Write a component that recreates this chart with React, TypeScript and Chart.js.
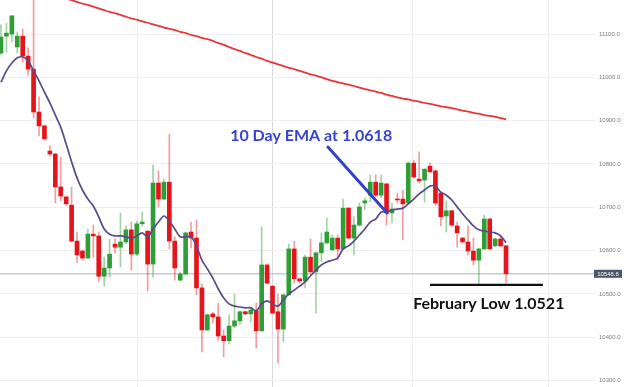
import React, { useEffect, useRef } from "react";
import { Chart, registerables } from "chart.js";

Chart.register(...registerables);

// ---- data (EUR/USD x10000 style price scale) ----
const opens = [
  11056, 11095, 11100, 11070, 11095, 11049, 11019, 10920, 10888, 10830,
  10823, 10747, 10724, 10705, 10622, 10599, 10583, 10638, 10634, 10541,
  10560, 10615, 10608, 10620, 10648, 10592, 10662, 10645, 10569, 10756,
  10719, 10758, 10622, 10532, 10546, 10643, 10629, 10514, 10417, 10454,
  10447, 10403, 10392, 10426, 10438, 10459, 10454, 10461, 10415, 10567,
  10518, 10459, 10419, 10498, 10604, 10535, 10530, 10585, 10551, 10595,
  10618, 10602, 10629, 10604, 10698, 10629, 10659, 10710, 10728, 10758,
  10728, 10754, 10687, 10719, 10719, 10710, 10802, 10765, 10763, 10795,
  10784, 10733, 10680, 10692, 10657, 10629, 10620, 10599, 10578, 10604,
  10673, 10611, 10627, 10611,
];
const highs = [
  11121, 11125, 11142, 11105, 11112, 11068, 11230, 10955, 10890, 10842,
  10825, 10816, 10726, 10747, 10643, 10601, 10650, 10659, 10643, 10585,
  10627, 10627, 10687, 10657, 10666, 10668, 10689, 10647, 10798, 10784,
  10765, 10869, 10632, 10551, 10643, 10666, 10671, 10523, 10454, 10458,
  10479, 10417, 10452, 10500, 10461, 10461, 10470, 10479, 10655, 10569,
  10520, 10500, 10500, 10615, 10622, 10537, 10590, 10627, 10597, 10641,
  10675, 10636, 10636, 10719, 10700, 10678, 10710, 10722, 10775, 10775,
  10775, 10756, 10710, 10733, 10740, 10805, 10809, 10828, 10790, 10802,
  10786, 10735, 10715, 10694, 10666, 10631, 10657, 10629, 10606, 10682,
  10675, 10629, 10632, 10613,
];
const lows = [
  11052, 11058, 11082, 11056, 11035, 11005, 10906, 10865, 10855, 10818,
  10710, 10715, 10705, 10620, 10572, 10578, 10581, 10585, 10528, 10518,
  10539, 10595, 10562, 10616, 10555, 10588, 10657, 10507, 10539, 10701,
  10717, 10604, 10532, 10530, 10544, 10606, 10498, 10366, 10415, 10433,
  10394, 10355, 10385, 10422, 10429, 10452, 10435, 10375, 10413, 10523,
  10454, 10341, 10389, 10496, 10525, 10525, 10514, 10549, 10456, 10574,
  10616, 10600, 10578, 10602, 10627, 10590, 10657, 10694, 10713, 10724,
  10722, 10659, 10664, 10710, 10625, 10708, 10767, 10756, 10712, 10780,
  10705, 10657, 10643, 10655, 10608, 10618, 10590, 10567, 10521, 10602,
  10602, 10609, 10609, 10525,
];
const closes = [
  11093, 11102, 11142, 11095, 11049, 11019, 10920, 10888, 10858, 10823,
  10747, 10726, 10708, 10622, 10590, 10583, 10638, 10634, 10541, 10560,
  10592, 10608, 10620, 10648, 10592, 10662, 10666, 10569, 10756, 10719,
  10758, 10622, 10560, 10546, 10641, 10629, 10514, 10417, 10452, 10447,
  10403, 10392, 10426, 10438, 10459, 10454, 10463, 10415, 10567, 10525,
  10456, 10419, 10498, 10604, 10535, 10530, 10585, 10551, 10595, 10618,
  10643, 10629, 10604, 10698, 10629, 10659, 10701, 10715, 10758, 10728,
  10756, 10687, 10696, 10717, 10708, 10802, 10770, 10761, 10788, 10782,
  10710, 10678, 10692, 10659, 10641, 10620, 10599, 10578, 10604, 10673,
  10604, 10627, 10611, 10546.6,
];
// 10-day EMA (purple)
const ema10 = [
  10989, 11015, 11033, 11045, 11047, 11038, 11015, 10992, 10966, 10941,
  10913, 10885, 10846, 10805, 10768, 10740, 10719, 10703, 10678, 10650,
  10638, 10634, 10634, 10632, 10629, 10634, 10641, 10632, 10650, 10666,
  10680, 10668, 10650, 10632, 10632, 10632, 10611, 10578, 10558, 10537,
  10512, 10491, 10477, 10472, 10470, 10468, 10468, 10461, 10477, 10484,
  10477, 10472, 10486, 10500, 10509, 10518, 10528, 10542, 10555, 10567,
  10574, 10578, 10583, 10604, 10611, 10622, 10636, 10650, 10666, 10673,
  10689, 10689, 10694, 10696, 10698, 10708, 10719, 10731, 10740, 10749,
  10749, 10735, 10728, 10717, 10701, 10685, 10671, 10657, 10648, 10645,
  10643, 10641, 10634, 10618,
];
// long moving average (red)
const maLong = [
  11226, 11223, 11219, 11215, 11212, 11208, 11204, 11200, 11197, 11193,
  11189, 11185, 11182, 11178, 11174, 11170, 11167, 11163, 11159, 11155,
  11151, 11148, 11144, 11140, 11136, 11133, 11129, 11126, 11122, 11119,
  11115, 11112, 11109, 11105, 11102, 11098, 11095, 11091, 11088, 11084,
  11079, 11075, 11070, 11065, 11061, 11056, 11052, 11047, 11043, 11038,
  11034, 11030, 11026, 11022, 11019, 11015, 11011, 11007, 11004, 11000,
  10996, 10992, 10989, 10986, 10983, 10980, 10976, 10973, 10970, 10967,
  10964, 10960, 10957, 10954, 10951, 10949, 10946, 10944, 10941, 10939,
  10936, 10933, 10931, 10929, 10926, 10923, 10921, 10918, 10916, 10913,
  10911, 10909, 10906, 10903,
];
const yTicks = [10300, 10400, 10500, 10600, 10700, 10800, 10900, 11000, 11100];
const lastPrice = 10546.6;
const febLow = 10521;
const emaLabel = "10 Day EMA at 1.0618";
const febLabel = "February Low 1.0521";

// candle index (category positions)
const candleIdx = opens.map((_, k) => k + 1);

// annotation anchors in data units
const xGrid = [26.05, 51.0, 76.7, 101.9];
const arrowFrom = { x: 61.2, y: 10839 };
const arrowTo = { x: 72.1, y: 10687 };
const emaTextPos = { x: 43.2, y: 10866 };
const febLinePos = { x1: 80.0, x2: 100.8 };
const febTextPos = { x: 76.9, y: 10478 };

const UP = "#2f9e36";
const DOWN = "#e5141b";
const UP_WICK = "rgba(47,158,54,0.45)";
const DOWN_WICK = "rgba(229,20,27,0.42)";

const annotations = {
  id: "annotations",
  beforeDatasetsDraw(chart: any) {
    const { ctx, chartArea, scales } = chart;
    const py = scales.y.getPixelForValue(lastPrice);
    ctx.save();
    ctx.strokeStyle = "#c6ccd5";
    ctx.lineWidth = 1.6;
    ctx.beginPath();
    ctx.moveTo(chartArea.left, py);
    ctx.lineTo(chartArea.right, py);
    ctx.stroke();
    ctx.restore();
  },
  afterDatasetsDraw(chart: any) {
    const { ctx, scales } = chart;
    const x = scales.x;
    const y = scales.y;
    ctx.save();
    // February low line
    const fy = y.getPixelForValue(febLow);
    ctx.strokeStyle = "#111";
    ctx.lineWidth = 2.2;
    ctx.beginPath();
    ctx.moveTo(x.getPixelForValue(febLinePos.x1), fy);
    ctx.lineTo(x.getPixelForValue(febLinePos.x2), fy);
    ctx.stroke();
    // arrow
    ctx.strokeStyle = "#3341c9";
    ctx.lineWidth = 3;
    ctx.lineCap = "round";
    ctx.beginPath();
    ctx.moveTo(x.getPixelForValue(arrowFrom.x), y.getPixelForValue(arrowFrom.y));
    ctx.lineTo(x.getPixelForValue(arrowTo.x), y.getPixelForValue(arrowTo.y));
    ctx.stroke();
    // texts
    ctx.textBaseline = "middle";
    ctx.textAlign = "left";
    ctx.font = "bold 16px Lato, 'Open Sans', sans-serif";
    ctx.fillStyle = "#3644cc";
    ctx.fillText(emaLabel, x.getPixelForValue(emaTextPos.x), y.getPixelForValue(emaTextPos.y));
    ctx.fillStyle = "#111";
    ctx.fillText(febLabel, x.getPixelForValue(febTextPos.x), y.getPixelForValue(febTextPos.y));
    ctx.restore();
  },
  afterDraw(chart: any) {
    const { ctx, chartArea, scales } = chart;
    const py = scales.y.getPixelForValue(lastPrice);
    ctx.save();
    ctx.fillStyle = "#4b566a";
    ctx.fillRect(chartArea.right - 2, py - 4, 28, 8);
    ctx.fillStyle = "#fff";
    ctx.font = "6px 'Liberation Sans', Arial, sans-serif";
    ctx.textAlign = "center";
    ctx.textBaseline = "middle";
    ctx.fillText(lastPrice.toFixed(1), chartArea.right + 12, py + 0.5);
    ctx.restore();
  },
};

export default function App() {
  const ref = useRef<HTMLCanvasElement | null>(null);
  useEffect(() => {
    if (!ref.current) return;
    const isUp = candleIdx.map((_, k) => closes[k] >= opens[k]);
    const chart = new Chart(ref.current, {
      type: "bar",
      data: {
        datasets: [
          {
            type: "line",
            data: candleIdx.map((x, k) => ({ x, y: maLong[k] })),
            borderColor: "#e8373a",
            borderWidth: 1.8,
            pointRadius: 0,
            tension: 0.3,
            order: 0,
          } as any,
          {
            type: "line",
            data: candleIdx.map((x, k) => ({ x, y: ema10[k] })),
            borderColor: "#5a4a8a",
            borderWidth: 1.7,
            pointRadius: 0,
            tension: 0.3,
            order: 1,
          } as any,
          {
            type: "bar",
            data: candleIdx.map((x, k) => ({ x, y: [opens[k], closes[k]] })),
            backgroundColor: isUp.map((u) => (u ? UP : DOWN)),
            borderWidth: 0,
            barThickness: 4,
            grouped: false,
            minBarLength: 1,
            order: 2,
          } as any,
          {
            type: "bar",
            data: candleIdx.map((x, k) => ({ x, y: [lows[k], highs[k]] })),
            backgroundColor: isUp.map((u) => (u ? UP_WICK : DOWN_WICK)),
            borderWidth: 0,
            barThickness: 1,
            grouped: false,
            order: 3,
          } as any,
        ],
      },
      options: {
        animation: false,
        responsive: true,
        maintainAspectRatio: false,
        layout: { padding: 0 },
        plugins: { legend: { display: false }, tooltip: { enabled: false } },
        scales: {
          x: {
            type: "linear",
            min: 0.816,
            max: 110.57,
            offset: false,
            afterBuildTicks: (s: any) => {
              s.ticks = xGrid.map((v) => ({ value: v }));
            },
            afterFit: (s: any) => {
              s.height = 0;
              s.paddingLeft = 0;
              s.paddingRight = 0;
            },
            ticks: { display: false },
            border: { display: false },
            grid: {
              offset: false,
              drawTicks: false,
              lineWidth: 1,
              color: (c: any) =>
                c.tick && Math.abs(c.tick.value - 51) < 1 ? "#d9dbdf" : "#f1f1f1",
            },
          },
          y: {
            type: "linear",
            position: "right",
            min: 10285.3,
            max: 11178.5,
            afterBuildTicks: (s: any) => {
              s.ticks = yTicks.map((v) => ({ value: v }));
            },
            afterFit: (s: any) => {
              s.width = 28;
              s.paddingTop = 0;
              s.paddingBottom = 0;
            },
            border: { display: false },
            grid: { drawTicks: false, color: "#efefef", lineWidth: 1 },
            ticks: {
              padding: 3,
              color: "#7a7a7a",
              font: { size: 6, family: "'Liberation Sans', Arial, sans-serif" },
              callback: (v: any) => Number(v).toFixed(1),
            },
          },
        },
      },
      plugins: [annotations],
    });
    return () => chart.destroy();
  }, []);

  return (
    <div
      style={{
        position: "absolute",
        left: 0,
        top: 0,
        width: 624,
        height: 387,
        background: "#fff",
      }}
    >
      <canvas ref={ref} />
    </div>
  );
}
